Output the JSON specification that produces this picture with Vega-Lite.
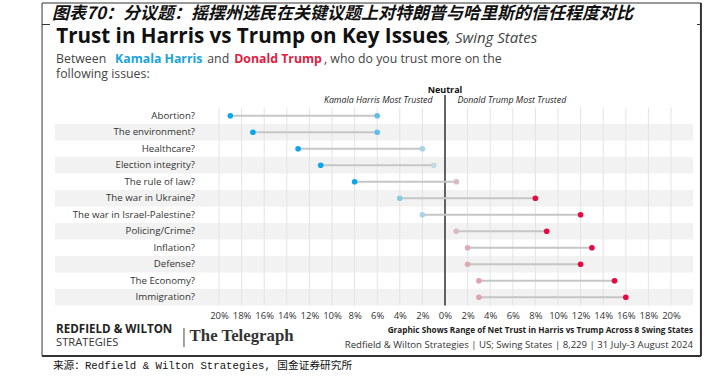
{
  "$schema": "https://vega.github.io/schema/vega-lite/v6.json",
  "width": 709,
  "height": 377,
  "autosize": {"type": "none"},
  "padding": 0,
  "background": "white",
  "config": {"view": {"stroke": null}, "font": "Open Sans", "axisX": {"labelOverlap": false, "labelSeparation": 0, "tickCount": 30}},
  "datasets": {
    "trust": [
      {"issue": "Abortion?", "lo": -19, "hi": -6},
      {"issue": "The environment?", "lo": -17, "hi": -6},
      {"issue": "Healthcare?", "lo": -13, "hi": -2},
      {"issue": "Election integrity?", "lo": -11, "hi": -1},
      {"issue": "The rule of law?", "lo": -8, "hi": 1},
      {"issue": "The war in Ukraine?", "lo": -4, "hi": 8},
      {"issue": "The war in Israel-Palestine?", "lo": -2, "hi": 12},
      {"issue": "Policing/Crime?", "lo": 1, "hi": 9},
      {"issue": "Inflation?", "lo": 2, "hi": 13},
      {"issue": "Defense?", "lo": 2, "hi": 12},
      {"issue": "The Economy?", "lo": 3, "hi": 15},
      {"issue": "Immigration?", "lo": 3, "hi": 16}
    ],
    "ticks": [
      {"t": -20}, {"t": -18}, {"t": -16}, {"t": -14}, {"t": -12}, {"t": -10}, {"t": -8}, {"t": -6}, {"t": -4}, {"t": -2}, {"t": 0},
      {"t": 2}, {"t": 4}, {"t": 6}, {"t": 8}, {"t": 10}, {"t": 12}, {"t": 14}, {"t": 16}, {"t": 18}, {"t": 20}
    ]
  },
  "layer": [
    {
      "data": {"name": "trust"},
      "transform": [
        {"window": [{"op": "row_number", "as": "rn"}]},
        {"filter": "datum.rn % 2 == 0"}
      ],
      "mark": {"type": "rect", "color": "#f2f2f2"},
      "encoding": {
        "y": {
          "field": "issue", "type": "nominal",
          "scale": {
            "type": "band",
            "domain": ["r0", "r1", "r2", "r3", "r4", "hdr",
              "Abortion?", "The environment?", "Healthcare?", "Election integrity?", "The rule of law?", "The war in Ukraine?", "The war in Israel-Palestine?", "Policing/Crime?", "Inflation?", "Defense?", "The Economy?", "Immigration?",
              "ax", "f1", "f2", "f3"],
            "paddingInner": 0, "paddingOuter": 0.424, "align": 0.604
          },
          "axis": null
        },
        "x": {
          "datum": -34.51, "type": "quantitative",
          "scale": {"domain": [-39.381, 23.363], "nice": false, "zero": false},
          "axis": {
            "orient": "bottom", "offset": -67,
            "values": [-20, -18, -16, -14, -12, -10, -8, -6, -4, -2, 0, 2, 4, 6, 8, 10, 12, 14, 16, 18, 20],
            "tickCount": 30,
            "labelExpr": "abs(datum.value) + '%'",
            "domain": false, "ticks": false, "tickSize": 0, "labelPadding": 0, "grid": false, "title": null,
            "labelFont": "Open Sans", "labelFontSize": 9.5, "labelColor": "#333", "labelOverlap": false, "labelSeparation": 0, "labelFlush": false, "labelBound": false
          }
        },
        "x2": {"datum": 21.95}
      }
    },
    {
      "data": {"name": "ticks"},
      "mark": {"type": "rule", "color": "#e4e4e4", "strokeWidth": 1},
      "encoding": {
        "x": {"field": "t", "type": "quantitative"},
        "y": {"datum": "Abortion?", "bandPosition": 0},
        "y2": {"datum": "ax", "bandPosition": 0}
      }
    },
    {
      "data": {"values": [{}]},
      "mark": {"type": "rule", "color": "#333", "strokeWidth": 1.5},
      "encoding": {
        "x": {"datum": 0},
        "y": {"datum": "hdr", "bandPosition": 0.245},
        "y2": {"datum": "ax", "bandPosition": 0}
      }
    },
    {
      "data": {"name": "trust"},
      "mark": {"type": "rule", "color": "#c6c6c6", "strokeWidth": 2},
      "encoding": {
        "x": {"field": "lo", "type": "quantitative"},
        "x2": {"field": "hi"},
        "y": {"field": "issue", "type": "nominal"}
      }
    },
    {
      "data": {"name": "trust"},
      "transform": [{"fold": ["lo", "hi"], "as": ["end", "value"]}],
      "mark": {"type": "circle", "size": 32, "opacity": 1},
      "encoding": {
        "x": {"field": "value", "type": "quantitative"},
        "y": {"field": "issue", "type": "nominal"},
        "color": {
          "field": "value", "type": "quantitative", "legend": null,
          "scale": {
            "domain": [-8, -6, -4, -2, -1, 1, 2, 3, 8],
            "range": ["#0aa8ea", "#5cc0ea", "#88cbe7", "#a7d4e4", "#c4dbe4", "#dbb9c2", "#dcabb8", "#dea2b2", "#e8083f"],
            "clamp": true, "interpolate": "rgb"
          }
        }
      }
    },
    {
      "data": {"name": "trust"},
      "mark": {"type": "text", "align": "right", "baseline": "middle", "fontSize": 9.7, "color": "#333"},
      "encoding": {
        "x": {"datum": -22.12},
        "y": {"field": "issue", "type": "nominal"},
        "text": {"field": "issue"}
      }
    },
    {
      "data": {"values": [{}]},
      "mark": {"type": "text", "text": "Neutral", "align": "center", "baseline": "middle", "fontSize": 9, "fontWeight": "bold", "color": "#111", "dy": -9.2},
      "encoding": {"x": {"datum": 0}, "y": {"datum": "hdr"}}
    },
    {
      "data": {"values": [{}]},
      "mark": {"type": "text", "text": "Kamala Harris Most Trusted", "align": "right", "baseline": "middle", "fontSize": 8.8, "fontStyle": "italic", "color": "#222", "dy": 0.8},
      "encoding": {"x": {"datum": -1.1}, "y": {"datum": "hdr"}}
    },
    {
      "data": {"values": [{}]},
      "mark": {"type": "text", "text": "Donald Trump Most Trusted", "align": "left", "baseline": "middle", "fontSize": 8.8, "fontStyle": "italic", "color": "#222", "dy": 0.8},
      "encoding": {"x": {"datum": 1.1}, "y": {"datum": "hdr"}}
    },
    {
      "data": {"values": [{}]},
      "mark": {"type": "text", "text": "图表70：分议题：摇摆州选民在关键议题上对特朗普与哈里斯的信任程度对比", "font": "Noto Sans CJK SC", "align": "left", "baseline": "middle", "fontSize": 17, "fontStyle": "italic", "fontWeight": "bold", "color": "#111", "dy": -3.2},
      "encoding": {"x": {"datum": -34.78}, "y": {"datum": "r0"}}
    },
    {
      "data": {"values": [{}]},
      "mark": {"type": "text", "text": "Trust in Harris vs Trump on Key Issues", "align": "left", "baseline": "middle", "fontSize": 20.6, "fontWeight": "bold", "color": "#111", "dy": 3.3},
      "encoding": {"x": {"datum": -34.4}, "y": {"datum": "r1"}}
    },
    {
      "data": {"values": [{}]},
      "mark": {"type": "text", "text": ", Swing States", "align": "left", "baseline": "middle", "fontSize": 15, "fontStyle": "italic", "color": "#444", "dy": 4.3},
      "encoding": {"x": {"datum": 0.2}, "y": {"datum": "r1"}}
    },
    {
      "data": {"values": [{}]},
      "mark": {"type": "text", "text": "Between", "align": "left", "baseline": "middle", "fontSize": 12.3, "color": "#444", "dy": 8.9},
      "encoding": {"x": {"datum": -34.42}, "y": {"datum": "r2"}}
    },
    {
      "data": {"values": [{}]},
      "mark": {"type": "text", "text": "Kamala Harris", "align": "left", "baseline": "middle", "fontSize": 12.3, "fontWeight": "bold", "color": "#1aa3dc", "dy": 8.9},
      "encoding": {"x": {"datum": -29.2}, "y": {"datum": "r2"}}
    },
    {
      "data": {"values": [{}]},
      "mark": {"type": "text", "text": "and", "align": "left", "baseline": "middle", "fontSize": 12.3, "color": "#444", "dy": 8.9},
      "encoding": {"x": {"datum": -21.04}, "y": {"datum": "r2"}}
    },
    {
      "data": {"values": [{}]},
      "mark": {"type": "text", "text": "Donald Trump", "align": "left", "baseline": "middle", "fontSize": 12.3, "fontWeight": "bold", "color": "#e31b3f", "dy": 8.9},
      "encoding": {"x": {"datum": -18.65}, "y": {"datum": "r2"}}
    },
    {
      "data": {"values": [{}]},
      "mark": {"type": "text", "text": ", who do you trust more on the", "align": "left", "baseline": "middle", "fontSize": 12.3, "color": "#444", "dy": 8.9},
      "encoding": {"x": {"datum": -10.71}, "y": {"datum": "r2"}}
    },
    {
      "data": {"values": [{}]},
      "mark": {"type": "text", "text": "following issues:", "align": "left", "baseline": "middle", "fontSize": 12.3, "color": "#444", "dy": 7.4},
      "encoding": {"x": {"datum": -34.42}, "y": {"datum": "r3"}}
    },
    {
      "data": {"values": [{}]},
      "mark": {"type": "text", "text": "REDFIELD & WILTON", "align": "left", "baseline": "middle", "fontSize": 11.6, "fontWeight": "bold", "color": "#222", "dy": -0.4},
      "encoding": {"x": {"datum": -34.42}, "y": {"datum": "f1"}}
    },
    {
      "data": {"values": [{}]},
      "mark": {"type": "text", "text": "STRATEGIES", "align": "left", "baseline": "middle", "fontSize": 11.2, "color": "#333", "dy": -3.6},
      "encoding": {"x": {"datum": -34.42}, "y": {"datum": "f2"}}
    },
    {
      "data": {"values": [{}]},
      "mark": {"type": "rule", "color": "#444", "strokeWidth": 1},
      "encoding": {
        "x": {"datum": -23.1},
        "y": {"datum": "f1", "bandPosition": 0.37},
        "y2": {"datum": "f2", "bandPosition": 0.52}
      }
    },
    {
      "data": {"values": [{}]},
      "mark": {"type": "text", "text": "The Telegraph", "font": "Liberation Serif", "align": "left", "baseline": "middle", "fontSize": 16.8, "fontWeight": "bold", "color": "#333", "dy": 5.5},
      "encoding": {"x": {"datum": -22.6}, "y": {"datum": "f1"}}
    },
    {
      "data": {"values": [{}]},
      "mark": {"type": "text", "text": "Graphic Shows Range of Net Trust in Harris vs Trump Across 8 Swing States", "align": "right", "baseline": "middle", "fontSize": 8.2, "fontWeight": "bold", "color": "#222", "dy": 0.8},
      "encoding": {"x": {"datum": 21.95}, "y": {"datum": "f1"}}
    },
    {
      "data": {"values": [{}]},
      "mark": {"type": "text", "text": "Redfield & Wilton Strategies | US; Swing States | 8,229 | 31 July-3 August 2024", "align": "right", "baseline": "middle", "fontSize": 9.6, "color": "#333", "dy": -1.7},
      "encoding": {"x": {"datum": 21.95}, "y": {"datum": "f2"}}
    },
    {
      "data": {"values": [{}]},
      "mark": {"type": "text", "text": "来源：Redfield & Wilton Strategies, 国金证券研究所", "font": "Liberation Mono, Noto Sans CJK SC", "align": "left", "baseline": "middle", "fontSize": 10.7, "color": "#111", "dy": 2.8},
      "encoding": {"x": {"datum": -34.7}, "y": {"datum": "f3"}}
    },
    {
      "data": {"values": [{}]},
      "mark": {"type": "rule", "color": "#333", "strokeWidth": 1},
      "encoding": {
        "x": {"datum": -35.66}, "x2": {"datum": 22.65},
        "y": {"datum": "r0", "bandPosition": -0.33}
      }
    },
    {
      "data": {"values": [{}]},
      "mark": {"type": "rule", "color": "#333", "strokeWidth": 2},
      "encoding": {
        "x": {"datum": -35.66}, "x2": {"datum": 22.65},
        "y": {"datum": "f3", "bandPosition": 0.06}
      }
    },
    {
      "data": {"values": [{}]},
      "mark": {"type": "rule", "color": "#333", "strokeWidth": 1},
      "encoding": {
        "x": {"datum": -35.66},
        "y": {"datum": "r0", "bandPosition": -0.33},
        "y2": {"datum": "f3", "bandPosition": 0.06}
      }
    },
    {
      "data": {"values": [{}]},
      "mark": {"type": "rule", "color": "#333", "strokeWidth": 2},
      "encoding": {
        "x": {"datum": 22.65},
        "y": {"datum": "r0", "bandPosition": -0.33},
        "y2": {"datum": "f3", "bandPosition": 0.06}
      }
    },
    {
      "data": {"values": [{}]},
      "mark": {"type": "rule", "color": "#333", "strokeWidth": 1},
      "encoding": {
        "x": {"datum": -35.66}, "x2": {"datum": -34.96},
        "y": {"datum": "r0", "bandPosition": 0.972}
      }
    },
    {
      "data": {"values": [{}]},
      "mark": {"type": "rule", "color": "#333", "strokeWidth": 1},
      "encoding": {
        "x": {"datum": 22.3}, "x2": {"datum": 22.65},
        "y": {"datum": "r0", "bandPosition": 0.972}
      }
    }
  ]
}
